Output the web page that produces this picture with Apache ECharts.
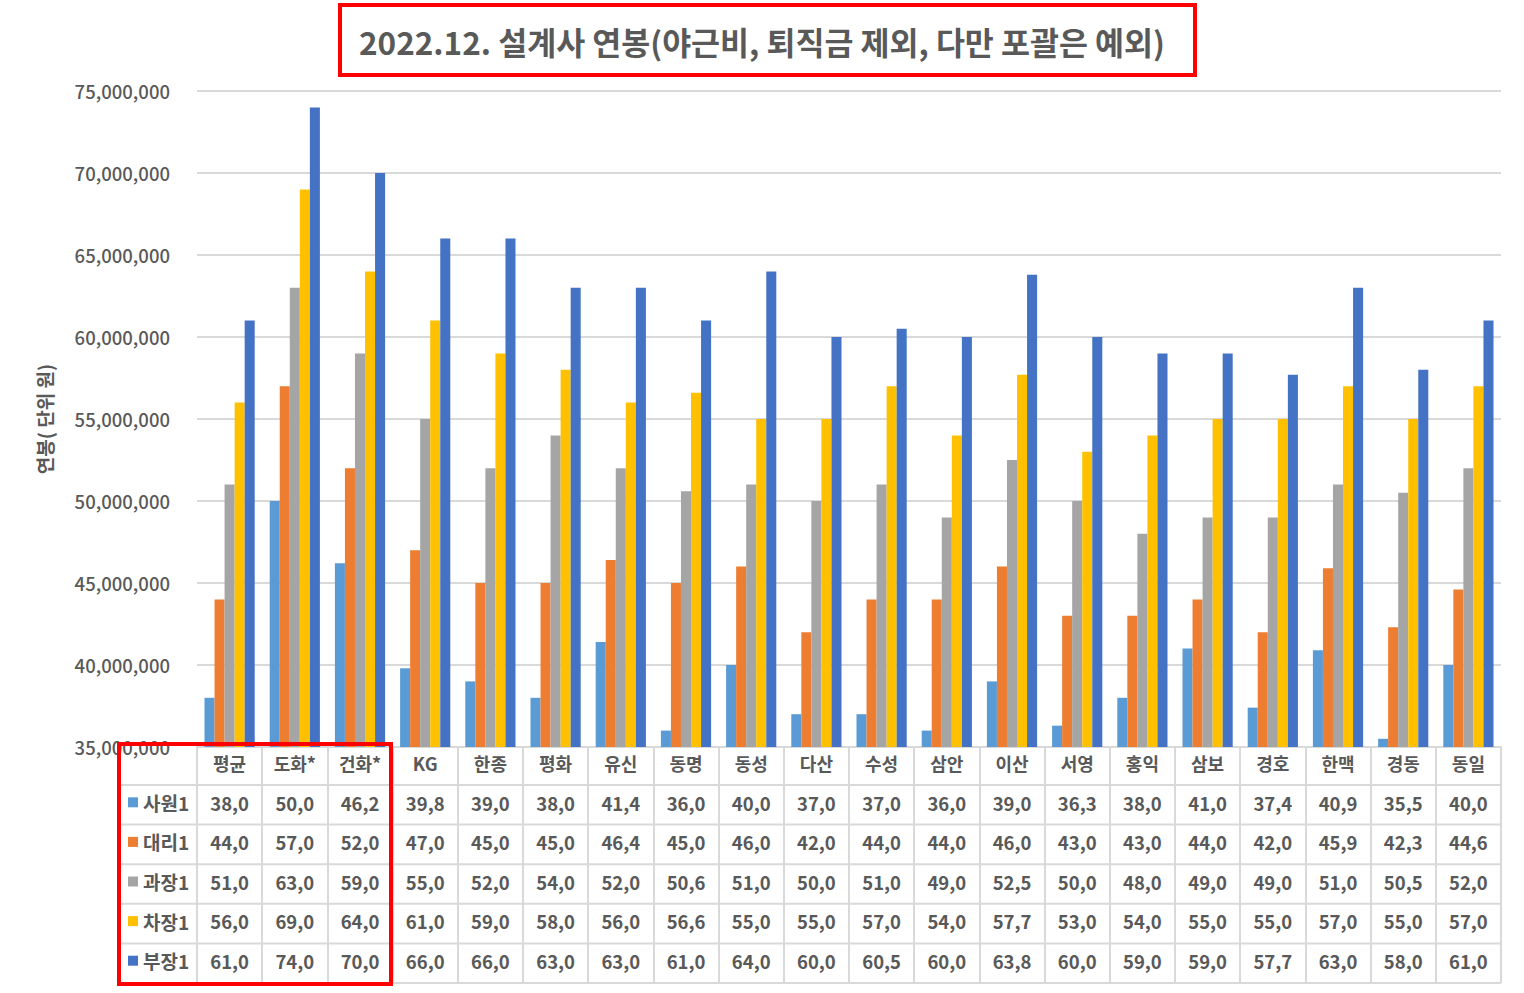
<!DOCTYPE html>
<html>
<head>
<meta charset="utf-8">
<script src="https://cdn.jsdelivr.net/npm/echarts@6/dist/echarts.min.js"></script>
<style>
html,body{margin:0;padding:0;background:#fff;}
#main{width:1524px;height:993px;}
</style>
</head>
<body>
<div id="main"></div>
<script>
const titleText = '2022.12. 설계사 연봉(야근비, 퇴직금 제외, 다만 포괄은 예외)';
const yAxisName = '연봉( 단위 원)';
const categories = ['평균','도화*','건화*','KG','한종','평화','유신','동명','동성','다산','수성','삼안','이산','서영','홍익','삼보','경호','한맥','경동','동일'];
const seriesNames = ['사원1','대리1','과장1','차장1','부장1'];
const sawon   = [38000000,50000000,46200000,39800000,39000000,38000000,41400000,36000000,40000000,37000000,37000000,36000000,39000000,36300000,38000000,41000000,37400000,40900000,35500000,40000000];
const daeri   = [44000000,57000000,52000000,47000000,45000000,45000000,46400000,45000000,46000000,42000000,44000000,44000000,46000000,43000000,43000000,44000000,42000000,45900000,42300000,44600000];
const gwajang = [51000000,63000000,59000000,55000000,52000000,54000000,52000000,50600000,51000000,50000000,51000000,49000000,52500000,50000000,48000000,49000000,49000000,51000000,50500000,52000000];
const chajang = [56000000,69000000,64000000,61000000,59000000,58000000,56000000,56600000,55000000,55000000,57000000,54000000,57700000,53000000,54000000,55000000,55000000,57000000,55000000,57000000];
const bujang  = [61000000,74000000,70000000,66000000,66000000,63000000,63000000,61000000,64000000,60000000,60500000,60000000,63800000,60000000,59000000,59000000,57700000,63000000,58000000,61000000];
const yTicks = { min: 35000000, max: 75000000, interval: 5000000 };

const seriesData = [sawon, daeri, gwajang, chajang, bujang];
const colors = ['#5B9BD5','#ED7D31','#A5A5A5','#FFC000','#4472C4'];
const FONT = '"Noto Sans CJK KR", "Noto Sans", sans-serif';
const TXT = '#595959';
const LINE = '#d9d9d9';

// layout
const G = { left: 197, right: 23, top: 91, bottom: 246 };
const W = 1524, H = 993;
const axisY = H - G.bottom;          // 747
const rowTop = 785, rowH = 39.6;
const tableLeft = 120, tableRight = W - G.right;
const tableBottom = rowTop + rowH * 5;

// Excel-like truncated cell text, e.g. 38,000,000 -> "38,0"
const cellText = v => v.toLocaleString('en-US').slice(0, 4);

const chart = echarts.init(document.getElementById('main'), null, { renderer: 'svg' });

const xAxes = [{
  type: 'category', data: categories, gridIndex: 0, position: 'bottom',
  axisLine: { show: true, lineStyle: { color: LINE, width: 2 } },
  axisTick: { show: true, interval: 0, alignWithLabel: false, length: tableBottom - axisY, lineStyle: { color: LINE, width: 2 } },
  axisLabel: { interval: 0, margin: 7, fontSize: 18, fontWeight: 'bold', color: TXT, fontFamily: FONT },
  splitLine: { show: false }
}];
seriesData.forEach((arr, i) => {
  const center = rowTop + rowH * (i + 0.5);
  xAxes.push({
    type: 'category', data: arr.map(cellText), gridIndex: 0, position: 'bottom',
    offset: center - 9 - 9 - axisY - 2.5,
    axisLine: { show: false }, axisTick: { show: false }, splitLine: { show: false },
    axisLabel: { interval: 0, margin: 9, fontSize: 18.5, fontWeight: 'bold', color: TXT, fontFamily: FONT }
  });
});

const graphics = [];
// horizontal table lines
for (let i = 0; i <= 5; i++) {
  const y = rowTop + rowH * i;
  graphics.push({ type: 'line', shape: { x1: tableLeft, y1: y, x2: tableRight, y2: y }, style: { stroke: LINE, lineWidth: 2 }, z: 1 });
}
graphics.push({ type: 'line', shape: { x1: tableLeft, y1: rowTop, x2: tableLeft, y2: tableBottom }, style: { stroke: LINE, lineWidth: 2 }, z: 1 });
// red boxes
graphics.push({ type: 'rect', shape: { x: 340, y: 5, width: 855, height: 70 }, style: { fill: 'none', stroke: '#ff0000', lineWidth: 4 }, z: 100 });
graphics.push({ type: 'rect', shape: { x: 119, y: 744, width: 272, height: 240 }, style: { fill: 'none', stroke: '#ff0000', lineWidth: 4 }, z: 100 });

const option = {
  backgroundColor: '#fff',
  animation: false,
  color: colors,
  title: {
    text: titleText, left: 'center', top: 20,
    textStyle: { fontSize: 31.5, fontWeight: 'bold', color: TXT, fontFamily: FONT }
  },
  legend: {
    orient: 'vertical', left: 128, top: rowTop - 2.5, itemGap: 0, padding: 0,
    itemWidth: 10, itemHeight: 10, icon: 'rect', selectedMode: false,
    data: seriesNames,
    textStyle: { fontSize: 19, fontWeight: 'bold', color: TXT, fontFamily: FONT, lineHeight: rowH }
  },
  grid: { left: G.left, right: G.right, top: G.top, bottom: G.bottom, containLabel: false, outerBoundsMode: 'none' },
  xAxis: xAxes,
  yAxis: {
    type: 'value', min: yTicks.min, max: yTicks.max, interval: yTicks.interval,
    name: yAxisName, nameLocation: 'middle', nameGap: 143, nameRotate: 90,
    nameTextStyle: { fontSize: 19, fontWeight: 'bold', color: TXT, fontFamily: FONT },
    axisLine: { show: false }, axisTick: { show: false },
    axisLabel: { margin: 27, fontSize: 18.5, fontWeight: 500, color: TXT, fontFamily: FONT, formatter: v => v.toLocaleString('en-US') },
    splitLine: { show: true, lineStyle: { color: LINE, width: 2 } }
  },
  series: seriesNames.map((name, i) => ({
    name, type: 'bar', xAxisIndex: 0, data: seriesData[i],
    barGap: '0%', barCategoryGap: '23%',
    itemStyle: { color: colors[i] }
  })),
  graphic: graphics
};
chart.setOption(option);
</script>
</body>
</html>
